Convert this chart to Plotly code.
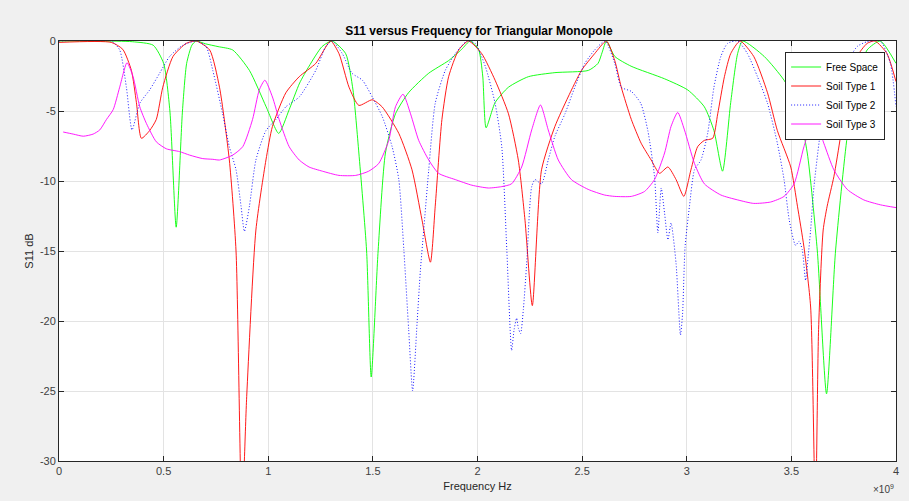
import numpy as np
import plotly.graph_objects as go

# ---- data (frequency in GHz, S11 in dB) ----
fs_f = [0.0, 0.2, 0.35, 0.45, 0.50, 0.53, 0.56, 0.59, 0.61, 0.635, 0.655, 0.70, 0.76, 0.83, 0.91, 0.99, 1.05, 1.10, 1.15,
        1.195, 1.257, 1.305, 1.37, 1.405, 1.433, 1.47, 1.492, 1.525, 1.56, 1.608, 1.67, 1.767, 1.862, 1.924, 1.965,
        2.005, 2.025, 2.041, 2.084, 2.148, 2.243, 2.37, 2.53, 2.576, 2.596, 2.616, 2.656, 2.734, 2.894, 3.005, 3.084,
        3.13, 3.171, 3.21, 3.243, 3.267, 3.37, 3.465, 3.53, 3.576, 3.624, 3.668, 3.711, 3.767, 3.814, 3.862, 3.925, 4.0]
fs_db = [0.0, 0.0, -0.05, -0.3, -1.6, -5.0, -13.3, -5.0, -1.6, -0.3, 0.0, -0.2, -0.4, -0.64, -2.1, -4.7, -6.6, -4.9, -3.0,
         -1.8, -0.4, 0.0, -0.9, -3.5, -8.0, -15.0, -24.0, -15.0, -8.0, -5.2, -3.7, -2.3, -1.4, -0.6, 0.0,
         -0.6, -2.5, -6.2, -4.4, -3.3, -2.55, -2.26, -2.1, -1.6, -0.8, 0.0, -1.1, -1.8, -2.7, -3.5, -4.7,
         -6.4, -9.3, -4.4, -0.9, 0.0, -1.1, -2.8, -4.7, -8.0, -15.0, -25.2, -15.0, -6.8, -2.8, -0.64, 0.0, -1.6]

s1_f = [0.0, 0.25, 0.305, 0.346, 0.37, 0.394, 0.433, 0.465, 0.496, 0.545, 0.608, 0.656, 0.72, 0.767, 0.814, 0.846, 0.874,
        0.897, 0.941, 0.989, 1.02, 1.084, 1.148, 1.227, 1.298, 1.338, 1.386, 1.433, 1.497, 1.544, 1.624, 1.687, 1.735,
        1.775, 1.798, 1.83, 1.862, 1.91, 1.957, 2.02, 2.084, 2.148, 2.195, 2.227, 2.262, 2.306, 2.37, 2.433, 2.497,
        2.56, 2.616, 2.656, 2.687, 2.735, 2.782, 2.83, 2.87, 2.91, 2.949, 2.986, 3.02, 3.052, 3.084, 3.124, 3.148,
        3.18, 3.21, 3.255, 3.32, 3.386, 3.433, 3.497, 3.529, 3.56, 3.592, 3.615, 3.63, 3.652, 3.671, 3.703, 3.735,
        3.767, 3.814, 3.862, 3.90, 3.957, 4.0]
s1_db = [-0.1, -0.1, -0.6, -2.1, -4.4, -6.95, -6.4, -5.6, -3.3, -1.1, -0.17, 0.0, -0.64, -3.3, -8.5, -15.0, -34.0,
         -25.4, -13.5, -8.5, -6.1, -3.7, -2.55, -1.6, 0.0, -0.9, -3.3, -4.6, -4.2, -4.7, -6.6, -9.2, -12.8,
         -15.8, -11.8, -5.6, -2.55, -0.64, 0.0, -0.9, -2.8, -5.2, -8.5, -12.8, -18.9, -9.2, -6.1, -4.0, -2.1,
         -0.9, 0.0, -1.4, -3.3, -5.6, -7.3, -8.5, -9.45, -9.0, -9.9, -11.1, -9.2, -7.55, -7.1, -6.95, -5.2,
         -2.55, -0.9, 0.0, -1.1, -3.7, -6.4, -9.0, -11.8, -14.7, -19.0, -34.0, -20.6, -13.5, -11.8, -9.7, -6.8,
         -3.3, -1.1, -0.17, 0.0, -0.9, -2.9]

s2_f = [0.0, 0.25, 0.29, 0.322, 0.349, 0.386, 0.433, 0.481, 0.529, 0.592, 0.656, 0.703, 0.735, 0.782, 0.814, 0.846,
        0.87, 0.886, 0.91, 0.941, 0.989, 1.037, 1.084, 1.148, 1.227, 1.275, 1.305, 1.354, 1.40, 1.45, 1.497, 1.545,
        1.592, 1.624, 1.648, 1.671, 1.69, 1.711, 1.727, 1.743, 1.767, 1.798, 1.846, 1.894, 1.95, 1.989, 2.037, 2.084,
        2.116, 2.14, 2.163, 2.175, 2.187, 2.195, 2.206, 2.219, 2.235, 2.259, 2.275, 2.306, 2.338, 2.37, 2.418, 2.465,
        2.513, 2.56, 2.61, 2.656, 2.687, 2.735, 2.78, 2.814, 2.846, 2.862, 2.878, 2.894, 2.91, 2.925, 2.949, 2.97,
        2.98, 2.992, 3.013, 3.037, 3.068, 3.10, 3.13, 3.163, 3.195, 3.243, 3.29, 3.338, 3.386, 3.433, 3.465, 3.49,
        3.52, 3.537, 3.552, 3.568, 3.58, 3.592, 3.608, 3.64, 3.655, 3.687, 3.719, 3.75, 3.814, 3.862, 3.925, 3.973, 4.0]
s2_db = [0.0, 0.0, -0.64, -3.3, -6.35, -4.45, -3.5, -2.3, -1.1, -0.3, 0.0, -0.4, -2.1, -5.2, -7.55, -9.2,
         -11.8, -13.6, -11.8, -8.5, -6.4, -5.6, -4.7, -4.0, -2.1, -0.4, 0.0, -0.9, -2.3, -2.8, -4.0, -5.4,
         -7.55, -9.9, -14.9, -20.6, -25.0, -20.2, -16.4, -13.5, -9.2, -4.45, -2.1, -0.9, 0.0, -0.17, -1.8, -4.45,
         -7.55, -14.9, -22.1, -20.6, -19.8, -20.5, -20.9, -19.2, -15.9, -10.4, -9.9, -10.2, -8.5, -6.8, -5.2, -3.3,
         -1.6, -0.64, 0.0, -1.6, -3.3, -3.6, -4.45, -6.4, -9.7, -13.7, -10.5, -12.3, -14.2, -13.0, -15.9, -21.0,
         -19.5, -14.7, -11.8, -9.2, -8.5, -6.6, -3.3, -1.1, -0.17, 0.0, -0.9, -2.55, -4.45, -7.3, -9.9, -12.8,
         -14.6, -14.3, -14.9, -17.1, -15.4, -13.5, -10.4, -6.4, -5.4, -5.2, -4.9, -2.1, -0.4, -0.05, 0.0, -1.6, -4.7]

s3_f = [0.02, 0.068, 0.116, 0.163, 0.195, 0.227, 0.259, 0.29, 0.325, 0.354, 0.386, 0.418, 0.465, 0.513, 0.576, 0.624,
        0.687, 0.735, 0.767, 0.83, 0.878, 0.925, 0.957, 0.984, 1.02, 1.052, 1.10, 1.148, 1.195, 1.259, 1.338, 1.418,
        1.48, 1.528, 1.576, 1.608, 1.644, 1.68, 1.719, 1.767, 1.814, 1.894, 1.973, 2.052, 2.116, 2.163, 2.211, 2.259,
        2.301, 2.338, 2.386, 2.449, 2.529, 2.607, 2.656, 2.735, 2.798, 2.846, 2.894, 2.925, 2.957, 2.989, 3.037, 3.084,
        3.163, 3.243, 3.32, 3.401, 3.465, 3.513, 3.56, 3.608, 3.655, 3.703, 3.767, 3.846, 3.925, 4.0]
s3_db = [-6.5, -6.65, -6.8, -6.65, -6.35, -5.6, -4.9, -3.3, -1.55, -2.55, -4.7, -5.9, -7.2, -7.7, -7.9, -8.15,
         -8.4, -8.45, -8.5, -8.15, -7.55, -5.6, -3.5, -2.8, -4.0, -5.6, -7.55, -8.5, -9.0, -9.3, -9.6, -9.6,
         -9.3, -8.75, -7.1, -4.7, -3.8, -5.2, -7.1, -8.5, -9.45, -9.9, -10.3, -10.5, -10.4, -10.2, -9.0, -6.35,
         -4.57, -6.35, -8.5, -9.9, -10.6, -11.0, -11.1, -11.1, -10.75, -9.9, -8.0, -6.1, -5.1, -6.35, -8.75, -10.2,
         -11.0, -11.35, -11.6, -11.5, -11.1, -10.2, -7.55, -5.45, -7.3, -9.2, -10.6, -11.35, -11.7, -11.9]

series_names = ["Free Space", "Soil Type 1", "Soil Type 2", "Soil Type 3"]
x_tick_vals_ghz = [0, 0.5, 1, 1.5, 2, 2.5, 3, 3.5, 4]
x_tick_text = ["0", "0.5", "1", "1.5", "2", "2.5", "3", "3.5", "4"]
y_tick_vals = [0, -5, -10, -15, -20, -25, -30]
y_tick_text = ["0", "-5", "-10", "-15", "-20", "-25", "-30"]

FONT = "Liberation Sans, Arial, Helvetica, sans-serif"

fig = go.Figure()
styles = [
    dict(color="#00ff00", width=0.9, dash="solid"),
    dict(color="#ff0000", width=0.9, dash="solid"),
    dict(color="#0000ff", width=0.9, dash="1px,2px"),
    dict(color="#ff00ff", width=0.9, dash="solid"),
]
for name, fx, fy, st in zip(series_names, [fs_f, s1_f, s2_f, s3_f], [fs_db, s1_db, s2_db, s3_db], styles):
    fig.add_trace(go.Scatter(
        x=np.array(fx) * 1e9, y=fy, mode="lines", name=name,
        line=dict(color=st["color"], width=st["width"], dash=st["dash"], shape="spline", smoothing=0.6),
    ))

axis_common = dict(
    showline=True, linecolor="#262626", linewidth=1, mirror="ticks",
    ticks="inside", ticklen=5, tickcolor="#262626",
    showgrid=True, gridcolor="#e3e3e3", gridwidth=1, zeroline=False,
    tickfont=dict(family=FONT, size=11, color="#404040"),
)

fig.update_layout(
    width=909, height=501,
    paper_bgcolor="#f0f0f0", plot_bgcolor="#ffffff",
    margin=dict(l=59, r=10, t=41, b=39),
    title=dict(text="<b>S11 versus Frequency for Triangular Monopole</b>",
               x=0.5 * (59 + 899) / 909, xanchor="center", y=1 - 31 / 501, yanchor="middle",
               font=dict(family=FONT, size=12, color="#000000")),
    showlegend=True,
    legend=dict(x=0.987, y=0.975, xanchor="right", yanchor="top",
                bgcolor="#ffffff", bordercolor="#262626", borderwidth=1,
                font=dict(family=FONT, size=10, color="#000000"),
                tracegroupgap=0, itemwidth=30),
    xaxis=dict(range=[0, 4e9], tickvals=[v * 1e9 for v in x_tick_vals_ghz], ticktext=x_tick_text,
               title=dict(text="Frequency Hz", font=dict(family=FONT, size=11, color="#262626"), standoff=6),
               **axis_common),
    yaxis=dict(range=[-30, 0], tickvals=y_tick_vals, ticktext=y_tick_text,
               title=dict(text="S11 dB", font=dict(family=FONT, size=11, color="#262626"), standoff=4),
               **axis_common),
)

fig.add_annotation(x=1.0, y=0, xref="paper", yref="paper", xanchor="right", yanchor="top",
                   yshift=-20, text="×10<sup>9</sup>", showarrow=False,
                   font=dict(family=FONT, size=10, color="#404040"))

fig.write_html("out.html")
